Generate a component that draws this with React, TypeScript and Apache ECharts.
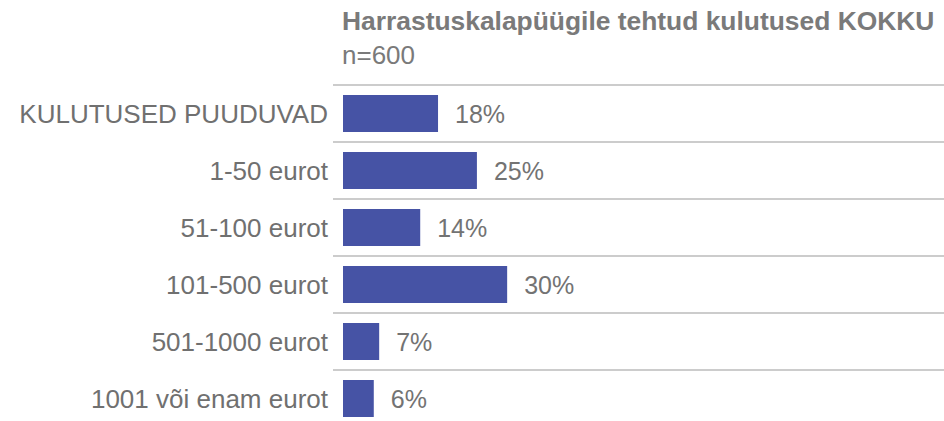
import React, { useEffect, useRef } from "react";
import * as echarts from "echarts";

const categories = [
  "KULUTUSED PUUDUVAD",
  "1-50 eurot",
  "51-100 eurot",
  "101-500 eurot",
  "501-1000 eurot",
  "1001 või enam eurot",
];
const values = [17.6, 24.8, 14.3, 30.4, 6.7, 5.7];
const titleText = "Harrastuskalapüügile tehtud kulutused KOKKU";
const subText = "n=600";

const FONT = "'Liberation Sans', Arial, sans-serif";

export default function App() {
  const ref = useRef<HTMLDivElement>(null);
  useEffect(() => {
    if (!ref.current) return;
    const chart = echarts.init(ref.current, null, { renderer: "svg" });
    chart.setOption({
      animation: false,
      backgroundColor: "#ffffff",
      title: {
        text: titleText,
        subtext: subText,
        left: 336,
        top: 8,
        padding: [0, 0, 0, 6],
        itemGap: 8,
        textStyle: {
          fontFamily: FONT,
          fontSize: 26.4,
          fontWeight: "bold",
          color: "#7a7a7a",
        },
        subtextStyle: {
          fontFamily: FONT,
          fontSize: 26,
          color: "#7a7a7a",
        },
      },
      grid: {
        left: 343,
        top: 85,
        height: 342,
        right: 0,
        containLabel: false,
      },
      xAxis: {
        type: "value",
        min: 0,
        max: 111.3,
        show: false,
      },
      yAxis: {
        type: "category",
        data: categories,
        inverse: true,
        axisLine: { show: false },
        axisTick: {
          show: true,
          length: 10,
          lineStyle: { color: "#cccccc", width: 2 },
        },
        splitLine: {
          show: true,
          lineStyle: { color: "#cccccc", width: 2 },
        },
        axisLabel: {
          margin: 15,
          fontFamily: FONT,
          fontSize: 26,
          color: "#707070",
        },
      },
      series: [
        {
          type: "bar",
          data: values,
          barWidth: 37,
          itemStyle: { color: "#4653a5" },
          label: {
            show: true,
            position: "right",
            distance: 17,
            fontFamily: FONT,
            fontSize: 25,
            color: "#737373",
            formatter: (p: any) => Math.round(p.value) + "%",
          },
        },
      ],
    });
    return () => chart.dispose();
  }, []);
  return (
    <div
      style={{
        position: "fixed",
        left: 0,
        top: 0,
        width: 944,
        height: 421,
        overflow: "hidden",
        background: "#ffffff",
      }}
    >
      <div ref={ref} style={{ width: 944, height: 440 }} />
    </div>
  );
}
